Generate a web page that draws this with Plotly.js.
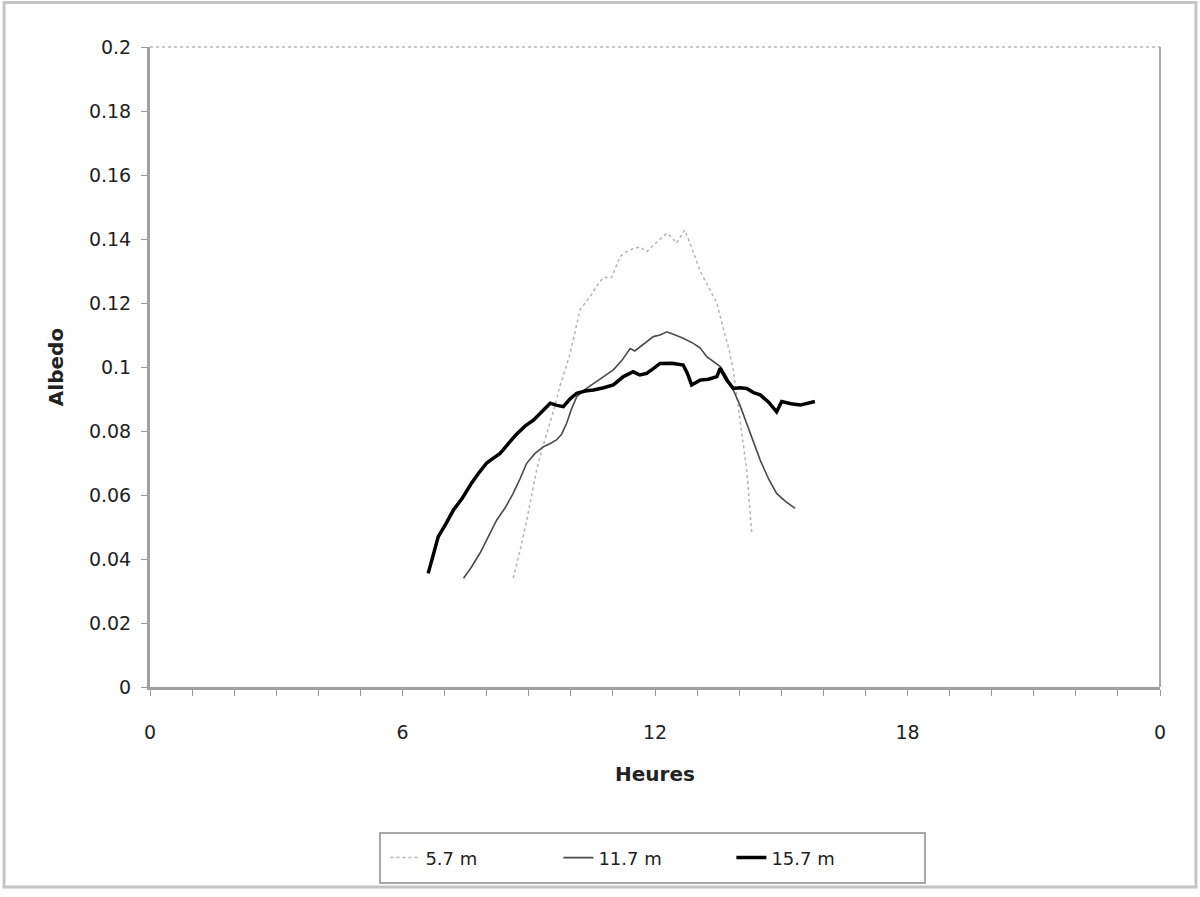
<!DOCTYPE html>
<html>
<head>
<meta charset="utf-8">
<script src="https://cdn.plot.ly/plotly-3.0.1.min.js"></script>
<style>
  body { margin: 0; background: #fff; }
  #chart { width: 1200px; height: 897px; }
</style>
</head>
<body>
<div id="chart"></div>
<script>
// Albedo selon l'heure, trois hauteurs de capteur

const seriesNames = ['5.7 m', '11.7 m', '15.7 m'];

// 5.7 m (pointillé)
const hours57 = [8.63, 8.80, 8.95, 9.07, 9.19, 9.31, 9.43, 9.58, 9.74, 9.86, 9.98, 10.10, 10.22, 10.34, 10.46, 10.60, 10.77, 10.97, 11.07, 11.17, 11.32, 11.48, 11.64, 11.80, 11.96, 12.12, 12.28, 12.40, 12.51, 12.62, 12.71, 12.88, 13.07, 13.27, 13.47, 13.63, 13.75, 13.86, 14.02, 14.18, 14.30];
const albedo57 = [0.034, 0.043, 0.052, 0.060, 0.068, 0.074, 0.079, 0.086, 0.094, 0.099, 0.104, 0.111, 0.118, 0.120, 0.122, 0.125, 0.128, 0.128, 0.131, 0.1345, 0.136, 0.137, 0.1375, 0.136, 0.138, 0.140, 0.1418, 0.1405, 0.1387, 0.141, 0.1428, 0.137, 0.130, 0.125, 0.120, 0.1116, 0.106, 0.099, 0.0834, 0.0678, 0.048];

// 11.7 m (trait fin)
const hours117 = [7.45, 7.64, 7.84, 8.04, 8.24, 8.44, 8.63, 8.79, 8.95, 9.15, 9.35, 9.50, 9.66, 9.78, 9.90, 10.02, 10.14, 10.34, 10.54, 10.78, 11.01, 11.21, 11.41, 11.52, 11.64, 11.80, 11.96, 12.12, 12.28, 12.48, 12.67, 12.91, 13.07, 13.23, 13.39, 13.55, 13.70, 13.86, 14.02, 14.18, 14.34, 14.50, 14.70, 14.89, 15.10, 15.33];
const albedo117 = [0.034, 0.0375, 0.0418, 0.047, 0.0522, 0.056, 0.0605, 0.065, 0.0699, 0.073, 0.0751, 0.076, 0.0772, 0.079, 0.0824, 0.087, 0.0907, 0.093, 0.0949, 0.097, 0.0991, 0.102, 0.1058, 0.105, 0.1063, 0.108, 0.1095, 0.110, 0.111, 0.110, 0.109, 0.1074, 0.106, 0.1032, 0.1015, 0.1001, 0.097, 0.0928, 0.088, 0.0824, 0.077, 0.0709, 0.065, 0.0605, 0.058, 0.0558];

// 15.7 m (trait épais)
const hours157 = [6.61, 6.73, 6.85, 7.03, 7.21, 7.42, 7.64, 7.82, 8.00, 8.16, 8.32, 8.51, 8.71, 8.91, 9.11, 9.31, 9.51, 9.67, 9.82, 9.98, 10.14, 10.34, 10.54, 10.78, 11.01, 11.25, 11.48, 11.64, 11.80, 11.96, 12.12, 12.40, 12.67, 12.77, 12.87, 13.07, 13.27, 13.47, 13.55, 13.70, 13.86, 14.02, 14.18, 14.34, 14.50, 14.70, 14.89, 15.01, 15.23, 15.45, 15.62, 15.80];
const albedo157 = [0.0355, 0.041, 0.047, 0.051, 0.0553, 0.059, 0.0637, 0.067, 0.070, 0.0715, 0.073, 0.076, 0.079, 0.0815, 0.0834, 0.086, 0.0887, 0.088, 0.0876, 0.090, 0.0918, 0.0925, 0.0928, 0.0935, 0.0944, 0.097, 0.0985, 0.0975, 0.098, 0.0995, 0.1011, 0.1012, 0.1006, 0.098, 0.0944, 0.0959, 0.0962, 0.097, 0.0996, 0.096, 0.0933, 0.0935, 0.0933, 0.092, 0.0913, 0.089, 0.086, 0.0892, 0.0885, 0.0881, 0.0885, 0.0892];

const xTickVals = [0, 6, 12, 18, 24];
const xTickText = ['0', '6', '12', '18', '0'];
const yTickVals = [0, 0.02, 0.04, 0.06, 0.08, 0.1, 0.12, 0.14, 0.16, 0.18, 0.2];
const yTickText = ['0', '0.02', '0.04', '0.06', '0.08', '0.1', '0.12', '0.14', '0.16', '0.18', '0.2'];

const font = 'DejaVu Sans, Liberation Sans, Arial, sans-serif';

const traces = [
  {
    x: hours57, y: albedo57, name: seriesNames[0], type: 'scatter', mode: 'lines',
    line: { color: '#b4b4b4', width: 1.5, dash: 'dot' }
  },
  {
    x: hours117, y: albedo117, name: seriesNames[1], type: 'scatter', mode: 'lines',
    line: { color: '#4a4a4a', width: 1.6 }
  },
  {
    x: hours157, y: albedo157, name: seriesNames[2], type: 'scatter', mode: 'lines',
    line: { color: '#000', width: 3.5 }
  }
];

const layout = {
  width: 1200,
  height: 897,
  paper_bgcolor: '#fff',
  plot_bgcolor: '#fff',
  margin: { l: 150, r: 40, t: 47, b: 210 },
  font: { family: font, color: '#222', size: 19 },
  showlegend: true,
  legend: {
    orientation: 'h',
    x: 0.49, xanchor: 'center',
    y: -0.267, yanchor: 'middle',
    borderwidth: 0,
    bgcolor: 'rgba(0,0,0,0)',
    entrywidth: 128,
    font: { family: font, size: 18, color: '#222' }
  },
  xaxis: {
    range: [0, 24],
    tickmode: 'array', tickvals: xTickVals, ticktext: xTickText,
    ticks: 'outside', ticklen: 6, tickcolor: '#999', tickwidth: 1,
    minor: { dtick: 1, tick0: 0, ticks: 'outside', ticklen: 6, tickcolor: '#999', showgrid: false },
    showline: true, linecolor: '#a0a0a0', linewidth: 3,
    showgrid: false, zeroline: false,
    ticklabelstandoff: 20,
    tickfont: { family: font, size: 19, color: '#222' },
    title: { text: '<b>Heures</b>', font: { family: font, size: 20, color: '#222' }, standoff: 26 }
  },
  yaxis: {
    range: [0, 0.2],
    tickmode: 'array', tickvals: yTickVals, ticktext: yTickText,
    ticks: 'outside', ticklen: 6, tickcolor: '#999', tickwidth: 1,
    showline: true, linecolor: '#a0a0a0', linewidth: 3,
    showgrid: false, zeroline: false,
    ticklabelstandoff: 6,
    tickfont: { family: font, size: 19, color: '#222' },
    title: { text: '<b>Albedo</b>', font: { family: font, size: 20, color: '#222' }, standoff: 20 }
  },
  shapes: [
    // bord supérieur pointillé et bord droit de la zone de tracé
    { type: 'line', xref: 'paper', yref: 'paper', x0: 0, x1: 1, y0: 1, y1: 1,
      line: { color: '#b8b8b8', width: 1.5, dash: 'dot' } },
    { type: 'line', xref: 'paper', yref: 'paper', x0: 1, x1: 1, y0: 0, y1: 1,
      line: { color: '#a8a8a8', width: 2 } },
    // cadre de la légende
    { type: 'rect', xref: 'paper', yref: 'paper', x0: 0.2277, x1: 0.7673, y0: -0.3063, y1: -0.228,
      line: { color: '#a8a8a8', width: 2 } },
    // cadre extérieur
    { type: 'rect', xref: 'paper', yref: 'paper', x0: -0.1445, x1: 1.0356, y0: -0.3125, y1: 1.0695,
      line: { color: '#c4c4c4', width: 3 } }
  ]
};

Plotly.newPlot('chart', traces, layout, { displayModeBar: false, staticPlot: true });
</script>
</body>
</html>
